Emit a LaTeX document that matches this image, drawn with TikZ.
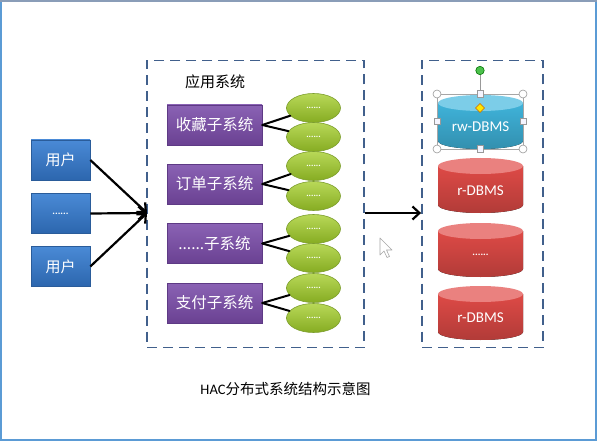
\documentclass[tikz,border=0pt]{standalone}
\usepackage{fontspec}
\setmainfont{Carlito}
\newfontfamily\cjk{Noto Sans CJK SC}
\usetikzlibrary{arrows.meta,shapes.geometric}
\definecolor{framecol}{HTML}{5B9BD5}
\definecolor{topcol}{HTML}{8A9DB8}
\definecolor{dashcol}{HTML}{41608C}
\definecolor{bluetop}{HTML}{4A8AD6}
\definecolor{bluebot}{HTML}{2C66AE}
\definecolor{blueedge}{HTML}{2A5C9A}
\definecolor{purtop}{HTML}{8A62B4}
\definecolor{purbot}{HTML}{6A4192}
\definecolor{puredge}{HTML}{5E3A85}
\definecolor{grntop}{HTML}{B8D858}
\definecolor{grnbot}{HTML}{86AC22}
\definecolor{grnedge}{HTML}{7C9E2C}
\definecolor{cyantop}{HTML}{3FB3DA}
\definecolor{cyanbot}{HTML}{2A8FB8}
\definecolor{cyanend}{HTML}{7CCDE8}
\definecolor{redtop}{HTML}{DE4A46}
\definecolor{redbot}{HTML}{C1302E}
\definecolor{redend}{HTML}{EA817F}
\newcommand\dbcyl[7]{%
  \fill[top color=#4, bottom color=#4!80!black] (#1-42.5,#2+8) -- (#1-42.5,#3-8)
     arc[start angle=180,end angle=0,x radius=42.5,y radius=8] -- (#1+42.5,#2+8) -- cycle;
  \fill[#5] (#1,#2+8) ellipse[x radius=42.5,y radius=8];
  \node[dbtext] (#6) at (#1,#2/2+#3/2+5) {#7};
}
\begin{document}
\begin{tikzpicture}[x=1pt,y=-1pt,
  userbox/.style={rectangle, minimum width=59pt, minimum height=40pt, inner sep=0pt,
    top color=bluetop, bottom color=bluebot, draw=blueedge, line width=0.6pt,
    text=white, font=\cjk\fontsize{15}{18}\selectfont},
  subbox/.style={rectangle, minimum width=95pt, minimum height=40pt, inner sep=0pt,
    top color=purtop, bottom color=purbot, draw=puredge, line width=0.6pt,
    text=white, font=\cjk\fontsize{15.5}{18}\selectfont},
  leaf/.style={ellipse, minimum width=54pt, minimum height=29pt, inner sep=0pt,
    top color=grntop, bottom color=grnbot, draw=grnedge, line width=0.6pt,
    text=white, font=\bfseries\fontsize{9}{10}\selectfont},
  dbtext/.style={text=white, font=\fontsize{15}{18}\selectfont, inner sep=0pt},
  groupbox/.style={draw=dashcol, line width=1.8pt, dash pattern=on 10pt off 6pt},
  link/.style={draw=black, line width=2pt, line cap=round},
  arr/.style={draw=black, line width=2.2pt, -{Straight Barb[length=7pt,width=13pt,line width=2.2pt]}},
  handle/.style={draw=gray!80, fill=white, line width=0.6pt}
]
\useasboundingbox (0,0) rectangle (597,441);
\fill[white] (0,0) rectangle (597,441);
\draw[framecol, line width=2pt] (1,1) rectangle (596,440);
\draw[topcol, line width=2.5pt] (0,1.2) -- (597,1.2);

% group boxes
\node[groupbox, minimum width=217pt, minimum height=287pt, inner sep=0pt] (app) at (255.5,204) {};
\node[groupbox, minimum width=121pt, minimum height=287pt, inner sep=0pt] (db) at (482.5,204) {};
\node[font=\cjk\fontsize{15}{18}\selectfont, inner sep=0pt] (applabel) at (215,82) {应用系统};

% users
\node[userbox] (u1) at (60.5,160) {用户};
\node[userbox, font=\bfseries\fontsize{10}{11}\selectfont] (u2) at (60.5,213.5) {......};
\node[userbox] (u3) at (60.5,266.5) {用户};
\coordinate (hub) at (147,213);
\draw[arr] (u1.east) -- (hub);
\draw[arr] (u2.east) -- (hub);
\draw[arr] (u3.east) -- (hub);

% subsystems
\node[subbox] (s1) at (214.5,125) {收藏子系统};
\node[subbox] (s2) at (214.5,184) {订单子系统};
\node[subbox] (s3) at (214.5,243.5) {......子系统};
\node[subbox] (s4) at (214.5,303) {支付子系统};

% leaves
\node[leaf] (e1) at (313.5,108) {......};
\node[leaf] (e2) at (313.5,137) {......};
\node[leaf] (e3) at (313.5,166) {......};
\node[leaf] (e4) at (313.5,196) {......};
\node[leaf] (e5) at (313.5,229) {......};
\node[leaf] (e6) at (313.5,258) {......};
\node[leaf] (e7) at (313.5,288) {......};
\node[leaf] (e8) at (313.5,318) {......};
\foreach \s/\a/\b in {s1/e1/e2, s2/e3/e4, s3/e5/e6, s4/e7/e8}{
  \draw[link] (\s.east) -- (\a);
  \draw[link] (\s.east) -- (\b);
}

% arrow between groups
\draw[arr] (app.east |- hub) -- (db.west |- hub);

% databases
\dbcyl{480.5}{95}{149}{cyantop}{cyanend}{rw}{rw-DBMS}
\dbcyl{480.5}{158}{213}{redtop}{redend}{r1}{r-DBMS}
\dbcyl{480.5}{223}{277}{redtop}{redend}{r2}{\bfseries\fontsize{10}{11}\selectfont ......}
\dbcyl{480.5}{286}{340}{redtop}{redend}{r3}{r-DBMS}

% selection handles on rw-DBMS
\draw[gray!70, line width=0.5pt] (437,94) rectangle (523,149);
\draw[gray!80, line width=0.6pt] (480,94) -- (480,75);
\draw[draw=green!45!black, fill=green!65!black!70, line width=0.6pt] (480,70.5) circle[radius=4.2];
\foreach \p in {(437,94),(523,94),(437,149),(523,149)}
  \draw[handle] \p circle[radius=4];
\foreach \p in {(480,94),(437,121.5),(523,121.5),(480,149)}
  \draw[handle, fill=blue!4] \p ++(-3.2,-3.2) rectangle ++(6.4,6.4);
\draw[draw=orange!80!black, fill=yellow!90!orange, line width=0.5pt]
  (480,103.5) -- (484.5,108) -- (480,112.5) -- (475.5,108) -- cycle;

% mouse cursor
\draw[gray!70, fill=white, line width=0.6pt, line join=round]
  (380,238) -- (380,255) -- (384,251) -- (387,257.5) -- (389.5,256.5) -- (386.5,250) -- (392,250) -- cycle;

% caption
\node[inner sep=0pt, font=\fontsize{14.5}{17}\selectfont] (cap) at (285.5,389) {HAC{\cjk 分布式系统结构示意图}};
\end{tikzpicture}
\end{document}
